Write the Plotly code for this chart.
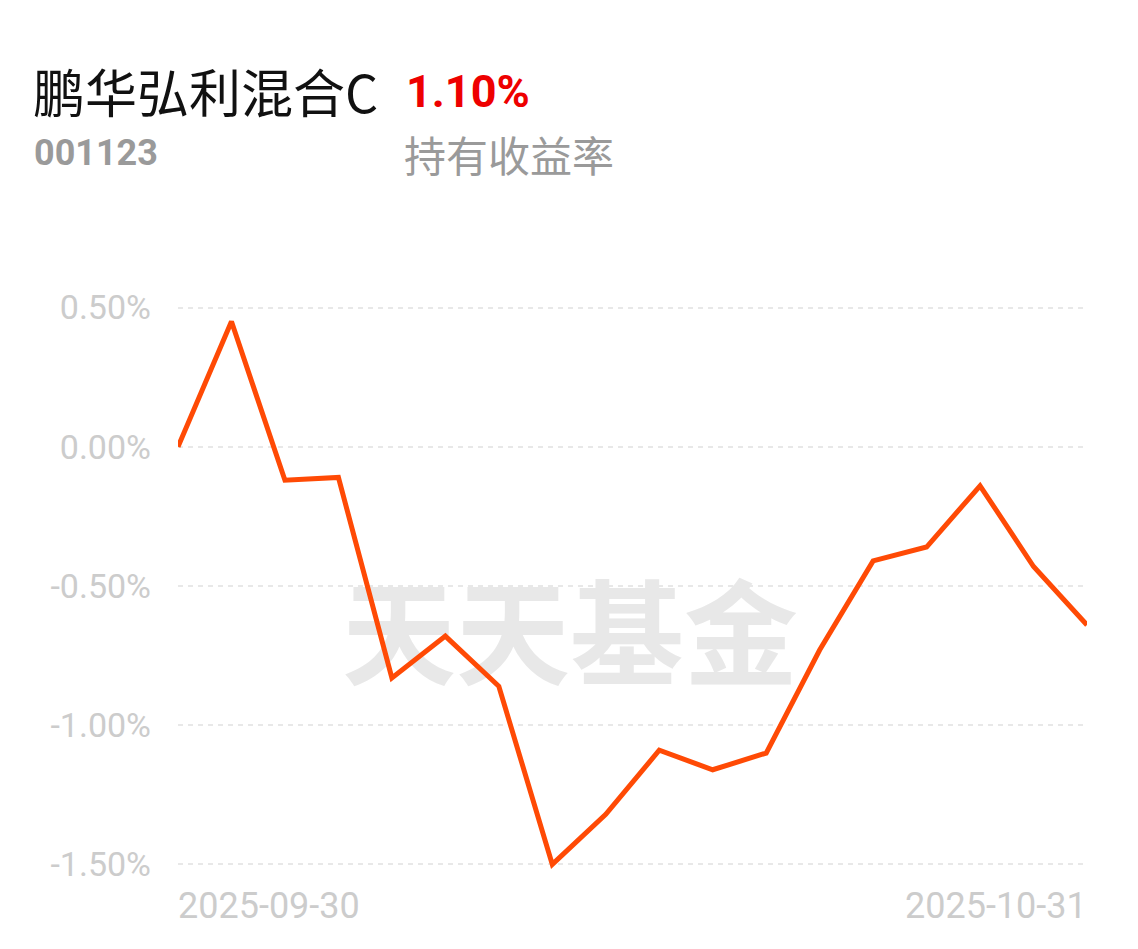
import plotly.graph_objects as go

dates = ["2025-09-30", "2025-10-09", "2025-10-10", "2025-10-13", "2025-10-14", "2025-10-15",
         "2025-10-16", "2025-10-17", "2025-10-20", "2025-10-21", "2025-10-22", "2025-10-23",
         "2025-10-24", "2025-10-27", "2025-10-28", "2025-10-29", "2025-10-30", "2025-10-31"]
returns = [0.00, 0.45, -0.12, -0.11, -0.83, -0.68, -0.86, -1.50, -1.32, -1.09, -1.16, -1.10,
           -0.73, -0.41, -0.36, -0.14, -0.43, -0.64]
y_ticks = [0.5, 0.0, -0.5, -1.0, -1.5]
y_tick_text = ["0.50%", "0.00%", "-0.50%", "-1.00%", "-1.50%"]

fund_name = "鹏华弘利混合C"
fund_code = "001123"
hold_return = "1.10%"
hold_label = "持有收益率"
watermark = "天天基金"

CJK = "Noto Sans CJK SC"
GREY = "#cccccc"

OFF = 8  # page body margin
W, H = 1138 - OFF, 949 - OFF
L, R, T, B = 178 - OFF, 51, 302 - OFF, 79
PW, PH = W - L - R, H - T - B
Y0, Y1 = -1.52, 0.52


def py(pix):
    # paper y from a pixel row of the final screenshot
    return (H - B - (pix - OFF)) / PH


def px(pix):
    return (pix - OFF - L) / PW


fig = go.Figure()

# watermark on a hidden linear axis, drawn beneath the line
fig.add_trace(go.Scatter(
    x=[7.33], y=[-0.72], mode="text", text=["<b>" + watermark + "</b>"],
    textfont=dict(family=CJK, size=114, color="#e8e8e8"),
    hoverinfo="skip", showlegend=False, cliponaxis=False, xaxis="x", yaxis="y",
))

fig.add_trace(go.Scatter(
    x=dates, y=returns, mode="lines",
    line=dict(color="#ff4a05", width=5),
    hoverinfo="skip", showlegend=False, cliponaxis=False, xaxis="x2", yaxis="y",
))

fig.update_layout(
    width=W, height=H,
    paper_bgcolor="white", plot_bgcolor="white",
    margin=dict(l=L, r=R, t=T, b=B),
    xaxis=dict(range=[0, len(dates) - 1], showgrid=False, zeroline=False,
               showline=False, showticklabels=False, fixedrange=True, automargin=False),
    xaxis2=dict(type="category", categoryorder="array", categoryarray=dates,
                range=[0, len(dates) - 1], overlaying="x", showgrid=False, zeroline=False,
                showline=False, showticklabels=False, automargin=False),
    yaxis=dict(range=[Y0, Y1], tickvals=y_ticks, ticktext=y_tick_text,
               showgrid=True, gridcolor="#e8e8e8", gridwidth=2, griddash="5px,5px",
               zeroline=False, showline=False, ticks="", ticklabelstandoff=26,
               automargin=False,
               tickfont=dict(family="Roboto", size=34, color=GREY)),
    annotations=[
        dict(xref="paper", yref="paper", x=px(31), y=py(90),
             text=fund_name, showarrow=False, xanchor="left", yanchor="middle",
             font=dict(family=CJK, size=52, color="#111111")),
        dict(xref="paper", yref="paper", x=px(404), y=py(91),
             text="<b>" + hold_return + "</b>", showarrow=False, xanchor="left", yanchor="middle",
             font=dict(family="Roboto", size=45, color="#ee0000")),
        dict(xref="paper", yref="paper", x=px(32), y=py(153),
             text="<b>" + fund_code + "</b>", showarrow=False, xanchor="left", yanchor="middle",
             font=dict(family="Roboto", size=36, color="#9a9a9a")),
        dict(xref="paper", yref="paper", x=px(402), y=py(153),
             text=hold_label, showarrow=False, xanchor="left", yanchor="middle",
             font=dict(family=CJK, size=42, color="#9a9a9a")),
        dict(xref="x2", yref="y", x=dates[0], y=-1.5, yshift=-42, text=dates[0], showarrow=False,
             xanchor="left", yanchor="middle", xshift=-2,
             font=dict(family="Roboto", size=36, color=GREY)),
        dict(xref="x2", yref="y", x=dates[-1], y=-1.5, yshift=-42, text=dates[-1], showarrow=False,
             xanchor="right", yanchor="middle", xshift=2,
             font=dict(family="Roboto", size=36, color=GREY)),
    ],
)

fig.write_html("out.html")
